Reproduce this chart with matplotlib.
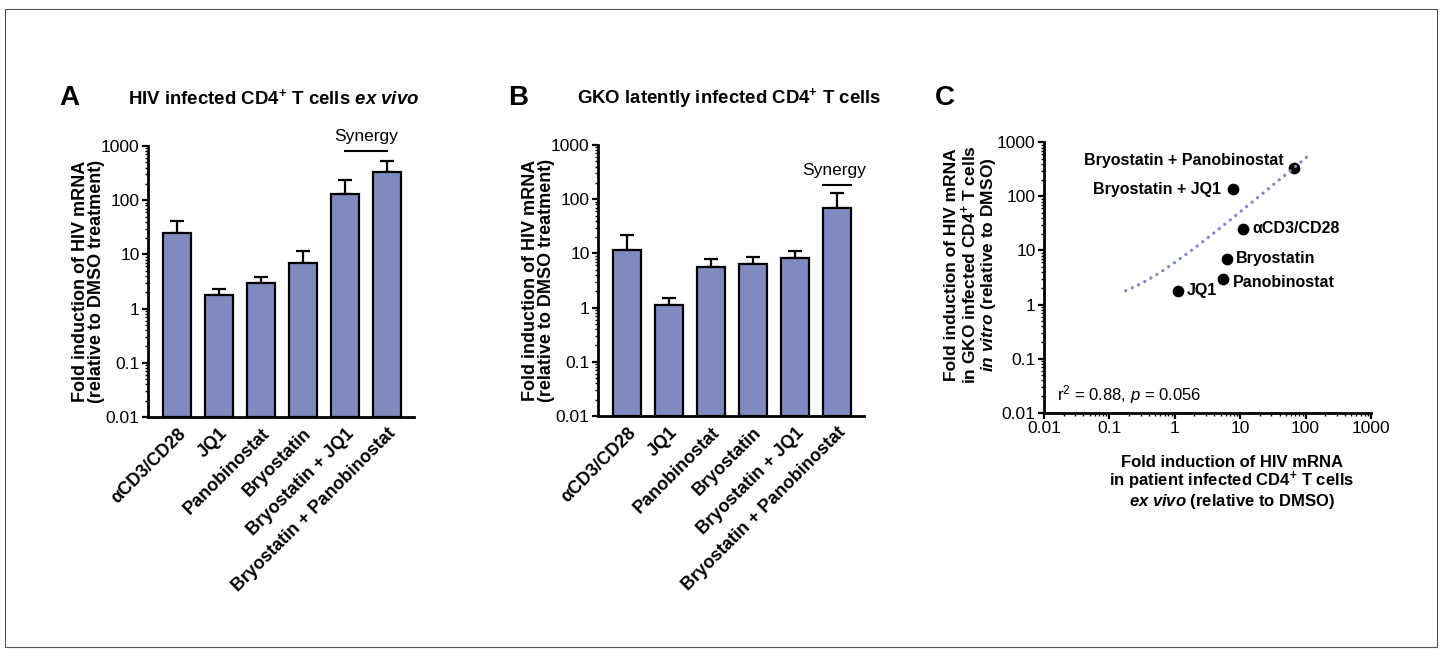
import numpy as np
import matplotlib
matplotlib.use("Agg")
import matplotlib.pyplot as plt
from matplotlib.ticker import LogLocator, FixedLocator, NullFormatter
from matplotlib.patches import Rectangle

plt.rcParams['font.family'] = ['Liberation Sans', 'DejaVu Sans']
plt.rcParams['mathtext.fontset'] = 'custom'
plt.rcParams['mathtext.rm'] = 'Liberation Sans'
plt.rcParams['mathtext.it'] = 'Liberation Sans:italic'
plt.rcParams['mathtext.bf'] = 'Liberation Sans:bold'
plt.rcParams['mathtext.bfit'] = 'Liberation Sans:bold:italic'

# ---------------- data ----------------
categories = ["αCD3/CD28", "JQ1", "Panobinostat", "Bryostatin",
              "Bryostatin + JQ1", "Bryostatin + Panobinostat"]
exvivo_mean = [25, 1.76, 2.95, 6.8, 130, 327]
exvivo_err_top = [41, 2.3, 3.8, 11.4, 236, 535]
gko_mean = [11.5, 1.1, 5.6, 6.3, 8.1, 69]
gko_err_top = [22, 1.5, 7.8, 8.5, 11.2, 132]

scatter_labels = ["αCD3/CD28", "JQ1", "Panobinostat", "Bryostatin",
                  "Bryostatin + JQ1", "Bryostatin + Panobinostat"]
scatter_x = [11, 1.1, 5.4, 6.2, 7.8, 66]
scatter_y = [25, 1.78, 3.0, 7.0, 135, 340]
trend_slope = 5.08
trend_intercept = 0.9
trend_x_range = [0.178, 123]

log_ticks = [0.01, 0.1, 1, 10, 100, 1000]
log_tick_labels = ["0.01", "0.1", "1", "10", "100", "1000"]

bar_color = "#7f8bc0"
W, H = 1442, 656
fig = plt.figure(figsize=(W / 100, H / 100), dpi=100)

# thin frame around the whole figure
fig.add_artist(Rectangle((5 / W, 1 - 647 / H), (1437 - 5) / W, (647 - 9) / H,
                         transform=fig.transFigure, fill=False,
                         edgecolor="#555555", linewidth=0.8))


def px_axes(l, t, r, b):
    return fig.add_axes([l / W, 1 - b / H, (r - l) / W, (b - t) / H])


def style_log_axis(axis):
    axis.set_major_locator(FixedLocator(log_ticks))
    axis.set_minor_locator(LogLocator(base=10, subs=np.arange(2, 10), numticks=20))
    axis.set_minor_formatter(NullFormatter())


def style_axes(ax):
    for s in ["top", "right"]:
        ax.spines[s].set_visible(False)
    for s in ["left", "bottom"]:
        ax.spines[s].set_linewidth(2.0)
    ax.tick_params(which="major", length=4, width=1.6, labelsize=12.5, pad=2)
    ax.tick_params(which="minor", length=2, width=1.0)


def bar_panel(ax, means, tops):
    x = np.arange(len(categories))
    ax.set_yscale("log")
    ax.set_ylim(0.01, 1000)
    upper = np.array(tops) - np.array(means)
    ax.errorbar(x, means, yerr=[np.zeros(len(x)), upper], fmt="none",
                ecolor="black", elinewidth=1.6, capsize=5, capthick=1.6, zorder=1)
    ax.bar(x, np.array(means) - 0.01, bottom=0.01, width=0.667, color=bar_color,
           edgecolor="black", linewidth=1.6, zorder=2)
    ax.set_xlim(-0.69, 5.64)
    style_axes(ax)
    style_log_axis(ax.yaxis)
    ax.set_yticklabels(log_tick_labels)
    ax.set_xticks(x)
    ax.set_xticklabels(categories, rotation=45, ha="right", rotation_mode="anchor",
                       fontweight="bold", fontsize=13)
    ax.tick_params(axis="x", length=0, pad=6)
    ax.set_ylabel("Fold induction of HIV mRNA\n(relative to DMSO treatment)",
                  fontweight="bold", fontsize=13, labelpad=-3, linespacing=0.95)


# ---------------- panel A ----------------
axA = px_axes(148, 146, 414, 417)
bar_panel(axA, exvivo_mean, exvivo_err_top)
fig.text(59 / W, 1 - 98 / H, "A", fontsize=20, fontweight="bold", va="center", ha="left")
fig.text(274 / W, 1 - 98 / H,
         r"HIV infected CD4$^{\mathbf{+}}$ T cells $\mathbfit{ex\ vivo}$",
         fontsize=13.4, fontweight="bold", ha="center", va="center")
fig.add_artist(plt.Line2D([345 / W, 387 / W], [1 - 151.3 / H, 1 - 151.3 / H],
                          color="black", lw=1.5))
fig.text(366.5 / W, 1 - 137 / H, "Synergy", fontsize=12.5, ha="center", va="center")

# ---------------- panel B ----------------
axB = px_axes(598, 145, 864, 416)
bar_panel(axB, gko_mean, gko_err_top)
fig.text(508 / W, 1 - 98 / H, "B", fontsize=20, fontweight="bold", va="center", ha="left")
fig.text(729 / W, 1 - 98 / H, r"GKO latently infected CD4$^{\mathbf{+}}$ T cells",
         fontsize=13.4, fontweight="bold", ha="center", va="center")
fig.add_artist(plt.Line2D([822.5 / W, 851 / W], [1 - 184.7 / H, 1 - 184.7 / H],
                          color="black", lw=1.5))
fig.text(834 / W, 1 - 170 / H, "Synergy", fontsize=12.5, ha="center", va="center")

# ---------------- panel C ----------------
axC = px_axes(1044, 142.3, 1371, 412.7)
axC.set_xscale("log")
axC.set_yscale("log")
axC.set_xlim(0.01, 1000)
axC.set_ylim(0.01, 1000)
style_axes(axC)
style_log_axis(axC.xaxis)
style_log_axis(axC.yaxis)
axC.set_xticklabels(log_tick_labels)
axC.set_yticklabels(log_tick_labels)
axC.scatter(scatter_x, scatter_y, s=55, color="black", zorder=3, clip_on=False)
tx = np.logspace(np.log10(trend_x_range[0]), np.log10(trend_x_range[1]), 400)
ty = trend_intercept + trend_slope * tx
axC.plot(tx, ty, linestyle=(0, (0.01, 2.1)), color=bar_color, lw=2.4,
         dash_capstyle="round", solid_capstyle="round", zorder=4)

offsets = {
    "αCD3/CD28": (7, 0, "left"),
    "JQ1": (7, 0, "left"),
    "Panobinostat": (7, -3, "left"),
    "Bryostatin": (7, 0, "left"),
    "Bryostatin + JQ1": (-9, 0, "right"),
    "Bryostatin + Panobinostat": (-7, 5, "right"),
}
for lab, xv, yv in zip(scatter_labels, scatter_x, scatter_y):
    dx, dy, ha = offsets[lab]
    axC.annotate(lab, (xv, yv), xytext=(dx, dy), textcoords="offset points",
                 ha=ha, va="center", fontsize=11.5, fontweight="bold")

axC.text(0.016, 0.0135, r"r$^2$ = 0.88, $p$ = 0.056", fontsize=12,
         ha="left", va="bottom")

fig.text(935 / W, 1 - 98 / H, "C", fontsize=20, fontweight="bold", va="center", ha="left")
fig.text(1232 / W, 1 - 483 / H,
         "Fold induction of HIV mRNA\n"
         r"in patient infected CD4$^{\mathbf{+}}$ T cells" "\n"
         r"$\mathbfit{ex\ vivo}$ (relative to DMSO)",
         fontsize=12, fontweight="bold", ha="center", va="center", linespacing=1.0)
fig.text(971 / W, 1 - 265 / H,
         "Fold induction of HIV mRNA\n"
         r"in GKO infected CD4$^{\mathbf{+}}$ T cells" "\n"
         r"$\mathbfit{in\ vitro}$ (relative to DMSO)",
         fontsize=12.5, fontweight="bold", ha="center", va="center", rotation=90,
         linespacing=1.05)

fig.savefig("out.png", dpi=100)
